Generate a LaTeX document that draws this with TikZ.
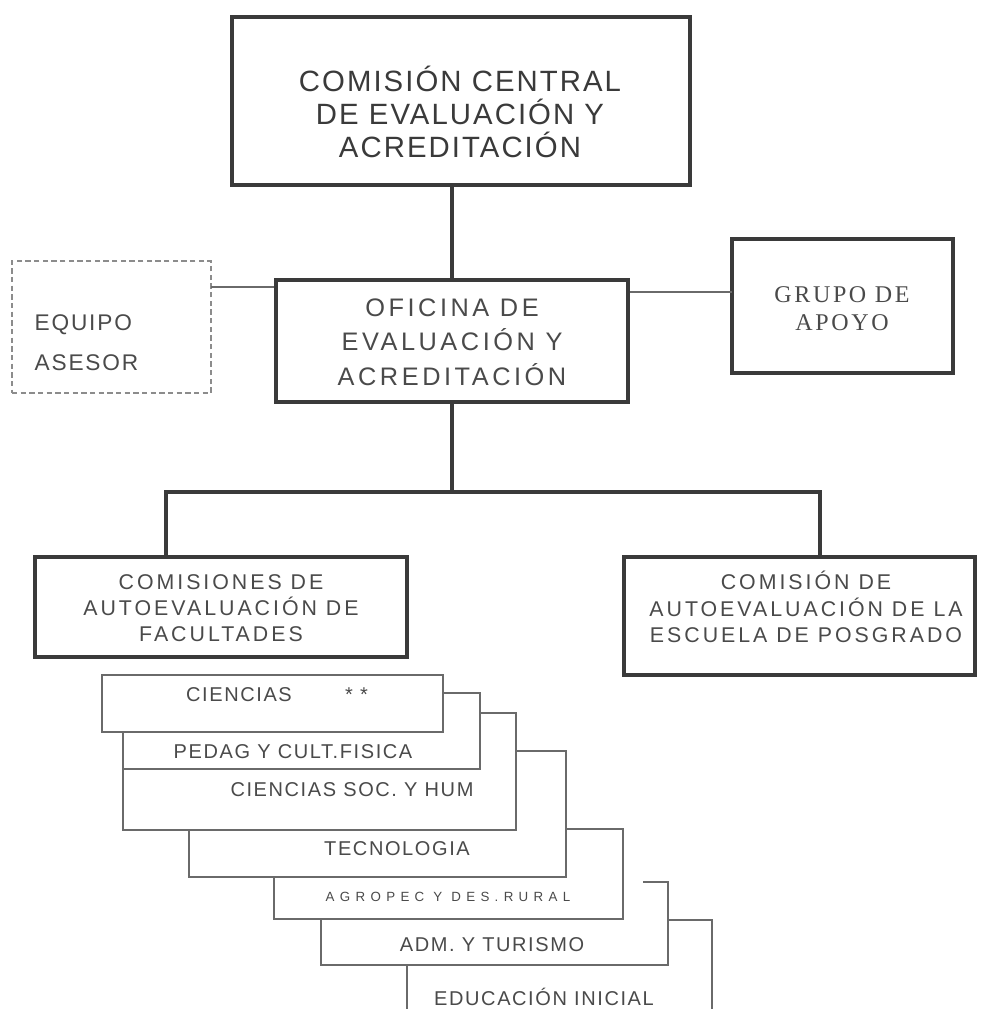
\documentclass[tikz,border=0pt]{standalone}
\usepackage{fontspec}
\usepackage{tikz}
\usetikzlibrary{positioning}
\setmainfont{Liberation Sans}
\newfontfamily\tracked[LetterSpace=14]{Liberation Sans}
\newfontfamily\trackedtop[LetterSpace=7]{Liberation Sans}
\newfontfamily\trackedsm[LetterSpace=8]{Liberation Sans}
\newfontfamily\trackedwide[LetterSpace=40]{Liberation Sans}
\newfontfamily\trackedserif[LetterSpace=11]{Liberation Serif}
\definecolor{boxgray}{HTML}{3A3A3A}
\definecolor{inkgray}{HTML}{4A4A4A}
\definecolor{linegray}{HTML}{6A6A6A}
\definecolor{dashgray}{HTML}{8C8C8C}
\newdimen\px \px=0.75pt

\begin{document}
\begin{tikzpicture}[x=0.75pt, y=-0.75pt,
    mainbox/.style={draw=boxgray, line width=3pt, fill=white, inner sep=0pt},
    advbox/.style={draw=dashgray, line width=1pt, dash pattern=on 4pt off 2.5pt, inner sep=0pt},
    trunk/.style={draw=boxgray, line width=3pt, line cap=rect},
    link/.style={draw=linegray, line width=1pt},
    facbox/.style={draw=linegray, line width=1.2pt, fill=white},
    boxtext/.style={text=inkgray, align=center},
    facname/.style={text=inkgray, font=\fontsize{15}{18}\selectfont\trackedsm}]
  \useasboundingbox (0,0) rectangle (985,1009);

  % upper levels
  \node[mainbox, minimum width=458\px, minimum height=168\px] (central) at (461,101) {};
  \node[boxtext, text=boxgray, font=\fontsize{22}{25}\selectfont\trackedtop] (centraltext) at (460,112)
    {COMISIÓN CENTRAL\\DE EVALUACIÓN Y\\ACREDITACIÓN};

  \node[mainbox, minimum width=352\px, minimum height=122\px] (oficina) at (452,341) {};
  \node[boxtext, font=\fontsize{19}{26}\selectfont\tracked] (oficinatext) at (452,342)
    {OFICINA DE\\EVALUACIÓN Y\\ACREDITACIÓN};

  \node[advbox, minimum width=199\px, minimum height=132\px] (equipo) at (111.5,327) {};
  \node[text=inkgray, align=left, font=\fontsize{17}{30}\selectfont\trackedsm, anchor=west] (equipotext) at (30,343)
    {EQUIPO\\ASESOR};

  \node[mainbox, minimum width=221\px, minimum height=134\px] (grupo) at (842.5,306) {};
  \node[boxtext, font=\fontsize{18}{21}\selectfont\trackedserif] (grupotext) at (842,309)
    {GRUPO DE\\APOYO};

  \coordinate (eqlink) at (211,287);
  \coordinate (grlink) at (732,292);
  \draw[link] (eqlink) -- (oficina.west |- eqlink);
  \draw[link] (oficina.east |- grlink) -- (grlink);

  % commissions
  \node[mainbox, minimum width=372\px, minimum height=100\px] (facultades) at (221,607) {};
  \node[boxtext, font=\fontsize{16}{19.5}\selectfont\tracked] (facultadestext) at (221,608)
    {COMISIONES DE\\AUTOEVALUACIÓN DE\\FACULTADES};

  \node[mainbox, minimum width=351\px, minimum height=118\px] (posgrado) at (799.5,616) {};
  \node[boxtext, font=\fontsize{16}{20}\selectfont\tracked] (posgradotext) at (806,607)
    {COMISIÓN DE\\AUTOEVALUACIÓN DE LA\\ESCUELA DE POSGRADO};

  \coordinate (barleft) at (166,492);
  \coordinate (barright) at (820,492);
  \draw[trunk] (central.south -| oficina.north) -- (oficina.north);
  \draw[trunk] (oficina.south) -- (oficina.south |- barleft);
  \draw[trunk, line join=miter] (facultades.north -| barleft) -- (barleft) -- (barright) -- (posgrado.north -| barright);

  % faculties, back to front
  \draw[facbox] (407,920) rectangle (712,1020);
  \fill[white] (321,882) rectangle (668,965);
  \draw[facbox] (643,882) -- (668,882) -- (668,965) -- (321,965) -- (321,882);
  \draw[facbox] (274,829) rectangle (623,919);
  \draw[facbox] (189,751) rectangle (566,877);
  \draw[facbox] (123,713) rectangle (516,830);
  \draw[facbox] (123,693) rectangle (480,769);
  \draw[facbox] (102,675) rectangle (443,732);

  \node[facname] (ciencias) at (277,695) {CIENCIAS\hspace{40pt}* *};
  \node[facname] (pedag) at (293,752) {PEDAG Y CULT.FISICA};
  \node[facname] (sociales) at (352,790) {CIENCIAS SOC. Y HUM};
  \node[facname] (tecno) at (397,849) {TECNOLOGIA};
  \node[text=inkgray, font=\fontsize{10}{12}\selectfont\trackedwide] (agropec) at (448,897) {AGROPEC Y DES.RURAL};
  \node[facname] (turismo) at (492,945) {ADM. Y TURISMO};
  \node[facname] (inicial) at (544,997) {EDUCACIÓN INICIAL};
\end{tikzpicture}
\end{document}
